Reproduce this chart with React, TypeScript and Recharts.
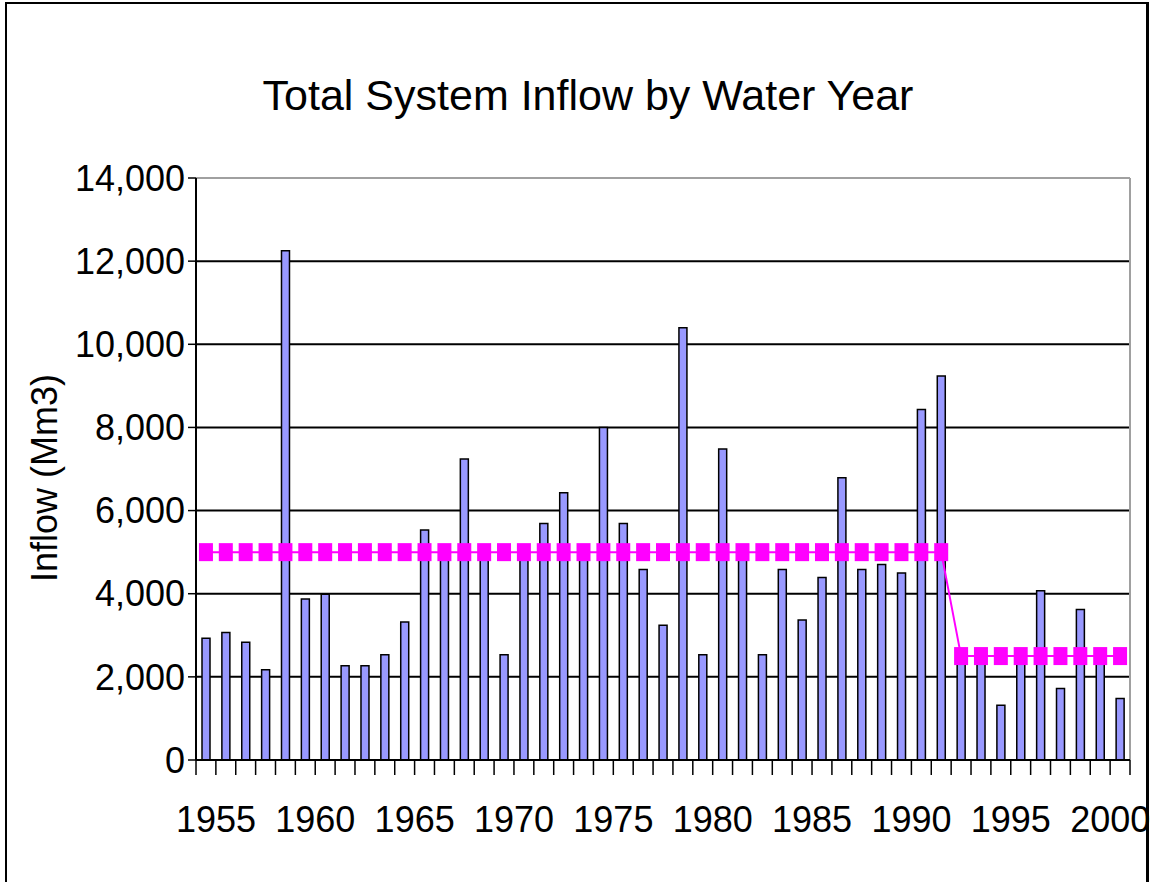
import React from 'react';
import { ComposedChart, Bar, Line, XAxis, YAxis, CartesianGrid, ReferenceLine } from 'recharts';

const years = [
  '1955', '1956', '1957', '1958', '1959', '1960', '1961', '1962', '1963', '1964',
  '1965', '1966', '1967', '1968', '1969', '1970', '1971', '1972', '1973', '1974',
  '1975', '1976', '1977', '1978', '1979', '1980', '1981', '1982', '1983', '1984',
  '1985', '1986', '1987', '1988', '1989', '1990', '1991', '1992', '1993', '1994',
  '1995', '1996', '1997', '1998', '1999', '2000', '2001',
];

const inflow = [
  2930, 3070, 2830, 2170, 12250, 3870, 3990, 2270, 2270, 2530,
  3320, 5530, 4900, 7240, 4900, 2530, 4900, 5690, 6430, 4950,
  8000, 5690, 4580, 3240, 10400, 2530, 7480, 4900, 2530, 4580,
  3370, 4390, 6790, 4580, 4700, 4500, 8430, 9240, 2450, 2450,
  1320, 2450, 4070, 1720, 3620, 2450, 1480,
];

const average = [
  5000, 5000, 5000, 5000, 5000, 5000, 5000, 5000, 5000, 5000,
  5000, 5000, 5000, 5000, 5000, 5000, 5000, 5000, 5000, 5000,
  5000, 5000, 5000, 5000, 5000, 5000, 5000, 5000, 5000, 5000,
  5000, 5000, 5000, 5000, 5000, 5000, 5000, 5000, 2500, 2500,
  2500, 2500, 2500, 2500, 2500, 2500, 2500,
];

const yTicks = [0, 2000, 4000, 6000, 8000, 10000, 12000, 14000];
const xLabels = ['1955', '1960', '1965', '1970', '1975', '1980', '1985', '1990', '1995', '2000'];

const data = years.map((year, i) => ({ year, inflow: inflow[i], average: average[i] }));

const SquareDot = (props: any) => {
  const { cx, cy, index } = props;
  if (cx == null || cy == null) return <g key={`d-${index}`} />;
  return <rect key={`d-${index}`} x={cx - 7} y={cy - 9} width={14} height={18} fill="#ff00ff" />;
};

const YearTick = (props: any) => {
  const { x, y, payload, index, visibleTicksCount } = props;
  const half = payload && payload.offset != null ? payload.offset : 0;
  const isLast = index === (visibleTicksCount ?? years.length) - 1;
  const showLabel = xLabels.includes(String(payload.value));
  return (
    <g>
      <line x1={x - half} x2={x - half} y1={y} y2={y + 15} stroke="#000" strokeWidth={1.5} />
      {isLast && <line x1={x + half} x2={x + half} y1={y} y2={y + 15} stroke="#000" strokeWidth={1.5} />}
      {showLabel && (
        <text x={x + 10} y={y + 46} dy="0.71em" textAnchor="middle" fontSize={36} fill="#000">
          {payload.value}
        </text>
      )}
    </g>
  );
};

const fmt = (v: number) => v.toLocaleString('en-US');

const rightEdge = (p: any) => [p.offset.left + p.offset.width];

export default function App() {
  return (
    <div
      style={{
        position: 'absolute',
        left: 0,
        top: 0,
        width: 1153,
        height: 882,
        background: '#fff',
        fontFamily: '"Liberation Sans", Arial, sans-serif',
        overflow: 'hidden',
      }}
    >
      <div
        style={{
          position: 'absolute',
          left: 5,
          top: 2,
          width: 1144,
          height: 880,
          boxSizing: 'border-box',
          borderTop: '2px solid #000',
          borderLeft: '2px solid #000',
          borderRight: '3px solid #000',
        }}
      />
      <div style={{ position: 'absolute', left: 0, top: 0 }}>
        <ComposedChart
          width={1153}
          height={882}
          data={data}
          margin={{ top: 178, right: 23, left: 0, bottom: 22 }}
        >
          <CartesianGrid horizontal vertical={false} stroke="#000" strokeWidth={2} />
          <CartesianGrid
            horizontal={false}
            vertical
            verticalCoordinatesGenerator={rightEdge}
            stroke="#a0a0a0"
            strokeWidth={2}
          />
          <XAxis
            dataKey="year"
            height={100}
            interval={0}
            axisLine={{ stroke: '#000', strokeWidth: 2 }}
            tickLine={false}
            tickSize={0}
            tickMargin={0}
            tick={<YearTick />}
          />
          <YAxis
            width={196}
            domain={[0, 14000]}
            ticks={yTicks}
            tickFormatter={fmt}
            axisLine={{ stroke: '#000', strokeWidth: 2 }}
            tickLine={{ stroke: '#000', strokeWidth: 1.5 }}
            tickSize={8}
            tickMargin={3}
            tick={{ fill: '#000', fontSize: 36 }}
          />
          <ReferenceLine y={14000} stroke="#a0a0a0" strokeWidth={2} />
          <Bar
            dataKey="inflow"
            barSize={8}
            fill="#9999ff"
            stroke="#000"
            strokeWidth={1.5}
            isAnimationActive={false}
          />
          <Line
            dataKey="average"
            type="linear"
            stroke="#ff00ff"
            strokeWidth={2}
            dot={SquareDot}
            activeDot={false}
            isAnimationActive={false}
          />
        </ComposedChart>
      </div>
      <svg
        width={1153}
        height={882}
        style={{ position: 'absolute', left: 0, top: 0, pointerEvents: 'none' }}
      >
        <text x={588} y={110} textAnchor="middle" fontSize={43} fill="#000">
          Total System Inflow by Water Year
        </text>
        <text transform="translate(57,478) rotate(-90)" textAnchor="middle" fontSize={36} fill="#000">
          Inflow (Mm3)
        </text>
      </svg>
    </div>
  );
}
